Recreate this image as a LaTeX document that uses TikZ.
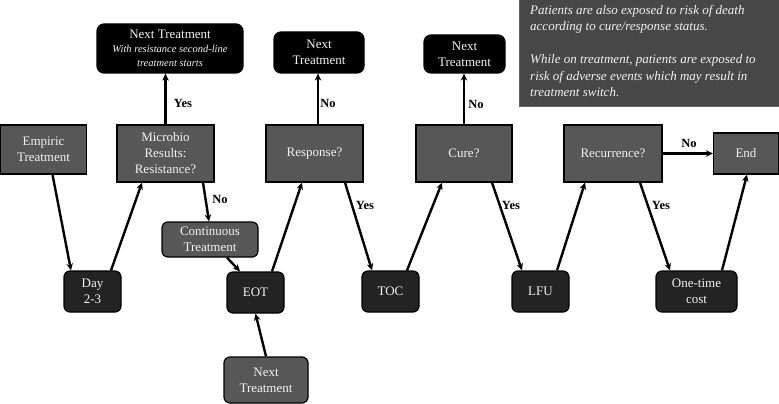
\documentclass[tikz,border=0pt]{standalone}
\usepackage{fontspec}
\setmainfont{Liberation Serif}
\usetikzlibrary{arrows.meta,calc}
\definecolor{gmid}{HTML}{575757}
\definecolor{gdark}{HTML}{232323}
\definecolor{ginfo}{HTML}{474747}
\definecolor{txt}{HTML}{F2F2F2}
\newcommand{\smallit}{\fontsize{10.5}{13.5}\selectfont\itshape}
\begin{document}
\begin{tikzpicture}[x=1pt,y=-1pt,
  box/.style={draw=black, line width=1.2pt, text=txt, align=center,
    font=\fontsize{13}{16}\selectfont, inner sep=0pt},
  gbox/.style={box, fill=gmid},
  grbox/.style={box, fill=gmid, rounded corners=6pt},
  dbox/.style={box, fill=gdark, rounded corners=6pt},
  bbox/.style={box, fill=black, rounded corners=7pt},
  arr/.style={line width=2.4pt, -{Stealth[length=7pt,width=6.5pt]}},
  lab/.style={font=\fontsize{12.5}{15}\selectfont\bfseries, inner sep=0pt}]
\useasboundingbox (0,0) rectangle (779,404);
% info box
\node[fill=ginfo, draw=gray!80!black, line width=0.8pt, minimum width=262pt, minimum height=108pt,
  inner sep=0pt] (info) at (650.5,52.5) {};
\node[text=txt, align=left, anchor=north west, inner sep=0pt,
  font=\fontsize{13}{16.5}\selectfont\itshape] (infotxt) at (530,5)
  {Patients are also exposed to risk of death\\according to cure/response status.\\[16.5pt]
   While on treatment, patients are exposed to\\risk of adverse events which may result in\\treatment switch.};
% top row
\node[gbox, minimum width=86pt, minimum height=49pt] (emp) at (43.5,149.5) {Empiric\\Treatment};
\node[gbox, minimum width=97pt, minimum height=57pt] (mic) at (165.5,153.5) {Microbio\\Results:\\Resistance?};
\node[gbox, minimum width=97pt, minimum height=57pt] (resp) at (314.5,153.5) {Response?};
\node[gbox, minimum width=96pt, minimum height=57pt] (cure) at (464,153.5) {Cure?};
\node[gbox, minimum width=98pt, minimum height=57pt] (rec) at (613,153.5) {Recurrence?};
\node[gbox, minimum width=65pt, minimum height=41pt] (end) at (746,153.5) {End};
% next treatment boxes
\node[bbox, minimum width=146pt, minimum height=49pt] (nt1) at (170,48.5)
  {Next Treatment\\[-2pt]\smallit With resistance second-line\\[-2pt]\smallit treatment starts};
\node[bbox, minimum width=90pt, minimum height=41pt] (nt2) at (319,52.5) {Next\\Treatment};
\node[bbox, minimum width=81pt, minimum height=38pt] (nt3) at (464.5,54) {Next\\Treatment};
% bottom row
\node[grbox, minimum width=96pt, minimum height=35pt] (cont) at (210,239.5) {Continuous\\Treatment};
\node[dbox, minimum width=57pt, minimum height=41pt] (day) at (92.5,291.5) {Day\\2-3};
\node[dbox, minimum width=57pt, minimum height=41pt] (eot) at (255.5,292.5) {EOT};
\node[grbox, minimum width=84pt, minimum height=46pt] (ntb) at (266,380) {Next\\Treatment};
\node[dbox, minimum width=57pt, minimum height=41pt] (toc) at (390.5,291.5) {TOC};
\node[dbox, minimum width=57pt, minimum height=41pt] (lfu) at (540.5,291.5) {LFU};
\node[dbox, minimum width=81pt, minimum height=41pt] (one) at (696.5,291.5) {One-time\\cost};
% arrows
\draw[arr] ([xshift=9pt]emp.south) -- ([xshift=-21.5pt]day.north);
\draw[arr] ([xshift=18.5pt]day.north) -- ([xshift=-23.5pt]mic.south);
\draw[arr] (mic.north) -- (mic.north |- nt1.south);
\draw[arr] ([xshift=37.5pt]mic.south) -- ([xshift=-1pt]cont.north);
\draw[arr] ([xshift=17pt]cont.south) -- ([xshift=-15.5pt]eot.north);
\draw[arr] (ntb.north) -- (eot.south);
\draw[arr] ([xshift=16.5pt]eot.north) -- ([xshift=-12.5pt]resp.south);
\draw[arr] ([xshift=3.5pt]resp.north) -- ([xshift=3.5pt]resp.north |- nt2.south);
\draw[arr] ([xshift=30.5pt]resp.south) -- ([xshift=-18.5pt]toc.north);
\draw[arr] ([xshift=16.5pt]toc.north) -- ([xshift=-22pt]cure.south);
\draw[arr] (cure.north) -- (cure.north |- nt3.south);
\draw[arr] ([xshift=28pt]cure.south) -- ([xshift=-18.5pt]lfu.north);
\draw[arr] ([xshift=16.5pt]lfu.north) -- ([xshift=-28pt]rec.south);
\draw[arr] (rec.east) -- (end.west);
\draw[arr] ([xshift=27pt]rec.south) -- ([xshift=-26.5pt]one.north);
\draw[arr] ([xshift=25.5pt]one.north) -- ([xshift=1pt]end.south);
% labels
\node[lab] (l1) at (183,103) {Yes};
\node[lab] (l2) at (328,103) {No};
\node[lab] (l3) at (476,104) {No};
\node[lab] (l4) at (220,199) {No};
\node[lab] (l5) at (365,205) {Yes};
\node[lab] (l6) at (511,205) {Yes};
\node[lab] (l7) at (661,205) {Yes};
\node[lab] (l8) at (689,143) {No};
\end{tikzpicture}
\end{document}
